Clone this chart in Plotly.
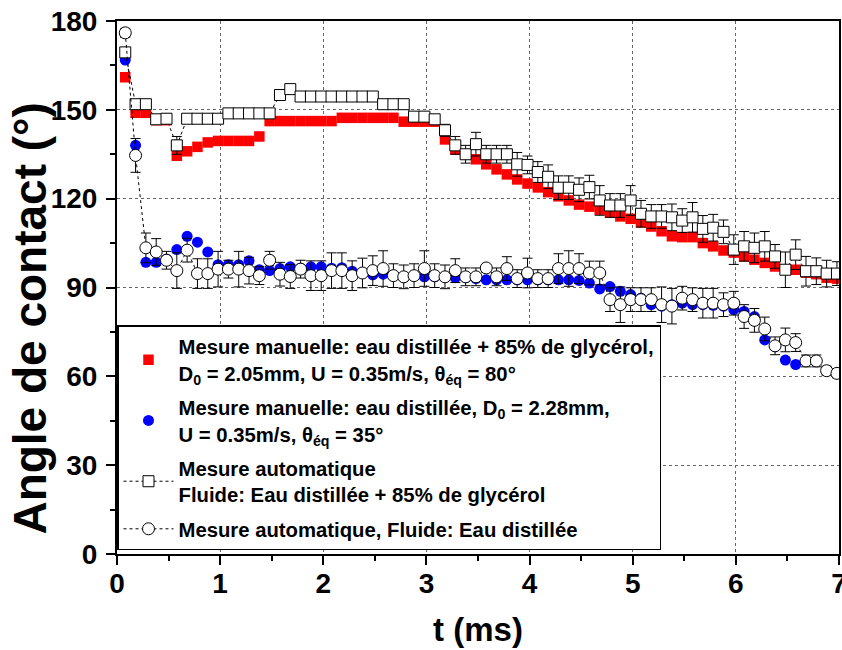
import plotly.graph_objects as go

# Time (ms) of each frame
t = [0.08, 0.18, 0.28, 0.38, 0.48, 0.58, 0.68, 0.78, 0.88, 0.98,
     1.08, 1.18, 1.28, 1.38, 1.48, 1.58, 1.68, 1.78, 1.88, 1.98,
     2.08, 2.18, 2.28, 2.38, 2.48, 2.58, 2.68, 2.78, 2.88, 2.98,
     3.08, 3.18, 3.28, 3.38, 3.48, 3.58, 3.68, 3.78, 3.88, 3.98,
     4.08, 4.18, 4.28, 4.38, 4.48, 4.58, 4.68, 4.78, 4.88, 4.98,
     5.08, 5.18, 5.28, 5.38, 5.48, 5.58, 5.68, 5.78, 5.88, 5.98,
     6.08, 6.18, 6.28, 6.38, 6.48, 6.58, 6.68, 6.78, 6.88, 6.98]

# Manual measurement, distilled water + 85% glycerol (red squares)
manual_glycerol = [161, 149, 149, 146.5, 146.5, 134.5, 136, 137.5, 139, 139.5,
                   139.5, 139.5, 139.5, 141, 146.2, 146.2, 146.2, 146.2, 146.2, 146.2,
                   146.2, 147.3, 147.3, 147.3, 147.3, 147.3, 147.3, 146, 146, 146,
                   146, 140, 136.6, 135, 133.3, 131.6, 129.9, 128.2, 126.5, 125.1,
                   123.8, 122.2, 120.8, 119.4, 118, 117.3, 116.3, 115.3, 114, 113.2,
                   112, 110.6, 109, 107.3, 107, 107, 105, 103.9, 102.5, 101.8,
                   100.5, 99.4, 98.3, 97.1, 96, 96, 95, 94.5, 93.3, 93]

# Manual measurement, distilled water (blue circles)
manual_water = [166.8, 138, 98.5, 98.5, 99.6, 102.8, 107.3, 105.3, 102, 97.7,
                97.7, 97.7, 99, 96, 95.7, 96.4, 97, 96.5, 97, 97,
                96.5, 96.7, 95.5, 95, 94.3, 94.5, 94, 93.5, 94, 93.6,
                93.6, 93.6, 93.3, 93.3, 93, 92.6, 92.6, 92.6, 92.6, 92.6,
                92.6, 92.6, 92.6, 92.6, 92.4, 91.5, 89.5, 90.3, 88.7, 87.6,
                86.4, 84.2, 83.7, 84.2, 84.7, 84.2, 84.2, 84, 83.7, 82.5,
                81.9, 80.2, 72.3, 70, 65.5, 64]

# Automatic measurement, glycerol mix (open squares) and its error
auto_glycerol = [169.4, 151.9, 151.9, 146.8, 147, 138, 147, 147, 147, 147,
                 148.8, 148.8, 148.8, 148.8, 148.8, 155, 157, 154.5, 154.5, 154.5,
                 154.5, 154.5, 154.5, 154.5, 154.5, 151.9, 151.9, 151.9, 147.7, 147.7,
                 146.8, 143.1, 138, 135, 138.4, 135, 135, 135, 131.6, 131.4,
                 129, 127.4, 123.7, 123.7, 123, 123.9, 119.4, 117.7, 117.7, 119.4,
                 114.9, 114, 114, 113.7, 112.6, 113.7, 109.8, 110.2, 108.8, 102.8,
                 103.9, 103.4, 103.9, 100.5, 96, 101.1, 95.5, 95.5, 94.7, 94.7]
auto_glycerol_err = [1.5, 1.5, 1.5, 1, 1.5, 3, 1, 1, 1, 1,
                     1, 1, 1, 1, 1, 1.5, 1.5, 1, 1, 1,
                     1, 1, 1, 1, 1, 1, 1, 1, 1.5, 1.5,
                     1.5, 2, 3, 3, 4, 3, 3, 3, 4, 3,
                     3.5, 4, 4, 4, 4, 4, 5, 4, 4, 5,
                     4.5, 4, 4, 4.5, 4, 5, 4.5, 4.5, 4, 5,
                     5, 5, 5, 4, 6, 5, 5, 4.5, 4.5, 4]

# Automatic measurement, distilled water (open circles) and its error
auto_water = [176, 134.6, 103.4, 102, 99.2, 95.7, 102.6, 94.7, 94.7, 96.2,
              96.2, 96.2, 95.7, 94, 99.2, 94.5, 93.7, 96.2, 94, 94,
              95.7, 95.7, 94, 94.9, 95.7, 96.4, 94, 93.6, 94, 96.4,
              94, 93.6, 95.7, 93.6, 93.6, 96.6, 93.6, 96.4, 93, 94.9,
              93, 93, 96.4, 96.4, 96.4, 94.9, 94.9, 85.9, 84.2, 85.9,
              85.9, 85.9, 84.2, 83.7, 86.4, 85.9, 84.7, 84.7, 84.2, 84.7,
              80.2, 78.9, 76, 70.3, 72.3, 71.4, 65.2, 65.2, 61.9, 61]
auto_water_err = [1.5, 5.7, 5, 4.5, 3, 6, 4, 5, 5, 6,
                  3, 6, 4.5, 3, 3, 4, 4, 3, 5, 5,
                  6, 6, 5, 5, 5, 6, 4, 4, 4, 6,
                  4, 4, 4, 3, 3, 1, 3, 4, 3, 5,
                  3, 3, 5, 6, 5, 4, 4, 4, 6, 4,
                  4, 4, 6, 6, 4, 4, 5, 5, 4, 4,
                  4, 4, 4, 3, 4, 3, 2, 2, 1.5, 1.5]

names = [
    "Mesure manuelle: eau distillée + 85% de glycérol,<br>D<sub>0</sub> = 2.05mm, U = 0.35m/s, θ<sub>éq</sub> = 80°",
    "Mesure manuelle: eau distillée, D<sub>0</sub> = 2.28mm,<br>U = 0.35m/s, θ<sub>éq</sub> = 35°",
    "Mesure automatique<br>Fluide: Eau distillée + 85% de glycérol",
    "Mesure automatique, Fluide: Eau distillée",
]
x_title = "t (ms)"
y_title = "Angle de contact (°)"

FONT = "Liberation Sans, Arial, sans-serif"

fig = go.Figure()
fig.add_trace(go.Scatter(
    x=t[:len(manual_glycerol)], y=manual_glycerol, mode="markers", name=names[0],
    marker=dict(symbol="square", size=10.5, color="#ff0000", line=dict(width=0)),
    legendgroup="a"))
fig.add_trace(go.Scatter(
    x=t[:len(manual_water)], y=manual_water, mode="markers", name=names[1],
    marker=dict(symbol="circle", size=11, color="#0000ff", line=dict(width=0)),
    legendgroup="b"))
fig.add_trace(go.Scatter(
    x=t, y=auto_glycerol, mode="lines+markers", name=names[2],
    line=dict(color="black", width=1, dash="dot"),
    marker=dict(symbol="square", size=11, color="white", line=dict(color="black", width=1)),
    error_y=dict(type="data", array=auto_glycerol_err, color="black", thickness=1, width=5),
    legendgroup="c"))
fig.add_trace(go.Scatter(
    x=t, y=auto_water, mode="lines+markers", name=names[3],
    line=dict(color="black", width=1, dash="dot"),
    marker=dict(symbol="circle", size=12, color="white", line=dict(color="black", width=1)),
    error_y=dict(type="data", array=auto_water_err, color="black", thickness=1, width=5),
    legendgroup="d"))

axis_common = dict(
    showline=True, linecolor="black", linewidth=2, mirror=True,
    ticks="outside", ticklen=9, tickwidth=2, tickcolor="black",
    showgrid=True, gridcolor="#666666", gridwidth=1, griddash="dot",
    zeroline=False, automargin=False, ticklabeloverflow="allow",
    tickfont=dict(family=FONT, size=28, color="black", weight="bold"),
)

fig.update_xaxes(range=[0, 7], dtick=1, tick0=0, ticklabelstandoff=-6,
                 minor=dict(dtick=0.5, ticklen=5, tickwidth=2, tickcolor="black", ticks="outside", showgrid=False),
                 title=dict(text=x_title, font=dict(family=FONT, size=33, color="black", weight="bold"), standoff=20),
                 **axis_common)
fig.update_yaxes(range=[0, 180], dtick=30, tick0=0, ticklabelstandoff=3,
                 minor=dict(dtick=15, ticklen=5, tickwidth=2, tickcolor="black", ticks="outside", showgrid=False),
                 **axis_common)

fig.add_annotation(
    text=y_title, textangle=-90, showarrow=False,
    xref="paper", yref="paper", x=-0.121, y=0.441,
    xanchor="center", yanchor="middle",
    font=dict(family=FONT, size=46, color="black", weight="bold"),
)

fig.update_layout(
    width=842, height=650,
    margin=dict(l=117, r=3, t=21, b=96),
    paper_bgcolor="white", plot_bgcolor="white",
    font=dict(family=FONT, color="black"),
    legend=dict(
        x=0.0, y=0.007, xanchor="left", yanchor="bottom",
        bgcolor="white", bordercolor="black", borderwidth=1.5,
        font=dict(family=FONT, size=20.3, color="black", weight="bold"),
        traceorder="grouped", tracegroupgap=5,
        itemwidth=50,
    ),
    showlegend=True,
)

fig.write_html("out.html", config={"displayModeBar": False},
               post_script="document.body.style.margin='0px';")
